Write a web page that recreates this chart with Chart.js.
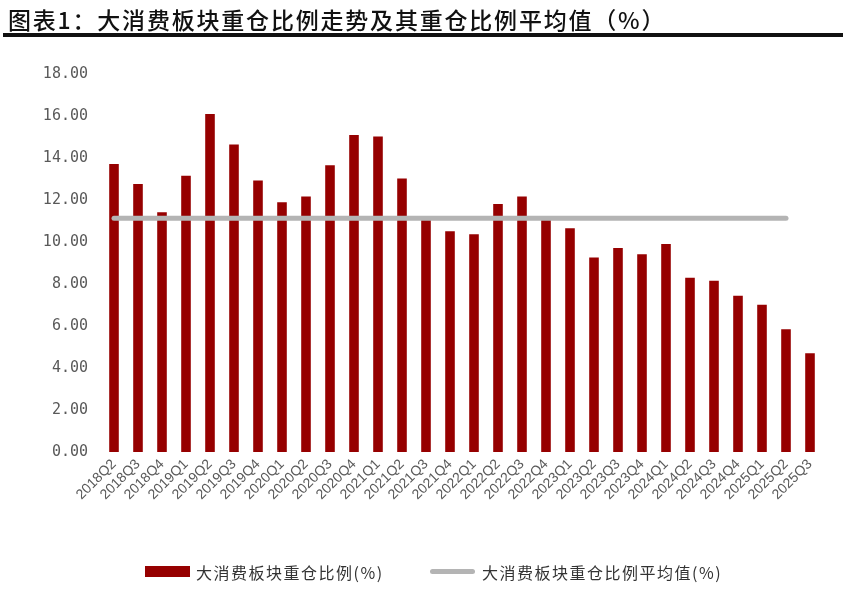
<!DOCTYPE html>
<html>
<head>
<meta charset="utf-8">
<script src="https://cdn.jsdelivr.net/npm/chart.js@4/dist/chart.umd.min.js"></script>
<style>
  html, body { margin: 0; padding: 0; background: #fff; }
  #wrap { position: relative; width: 843px; height: 596px; overflow: hidden; }
  #title {
    position: absolute; left: 8px; top: 2px;
    font: 500 23px "Noto Sans CJK SC", serif; letter-spacing: 1.8px; color: #111;
    white-space: nowrap;
  }
  #rule { position: absolute; left: 3px; right: 0; top: 33px; height: 4px; background: #111; }
  #chart { position: absolute; left: 0; top: 0; }
  .leg { position: absolute; top: 560px; font: 16px "Noto Sans CJK SC", sans-serif; letter-spacing: 1.5px; color: #333; white-space: nowrap; }
  .sw { position: absolute; }
</style>
</head>
<body>
<div id="wrap">
  <canvas id="chart" width="843" height="596"></canvas>
  <div id="title">图表1：大消费板块重仓比例走势及其重仓比例平均值（%）</div>
  <div id="rule"></div>
  <div class="sw" style="left:145px;top:566px;width:45px;height:11px;background:#960000"></div>
  <div class="leg" style="left:196px">大消费板块重仓比例(%)</div>
  <div class="sw" style="left:430px;top:569px;width:45px;height:5px;border-radius:3px;background:#b4b4b4"></div>
  <div class="leg" style="left:482px">大消费板块重仓比例平均值(%)</div>
</div>
<script>
const quarters = [
  "2018Q2","2018Q3","2018Q4",
  "2019Q1","2019Q2","2019Q3","2019Q4",
  "2020Q1","2020Q2","2020Q3","2020Q4",
  "2021Q1","2021Q2","2021Q3","2021Q4",
  "2022Q1","2022Q2","2022Q3","2022Q4",
  "2023Q1","2023Q2","2023Q3","2023Q4",
  "2024Q1","2024Q2","2024Q3","2024Q4",
  "2025Q1","2025Q2","2025Q3"
];

const heavyRatio = [
  13.72, 12.76, 11.42,
  13.15, 16.10, 14.64, 12.93,
  11.89, 12.17, 13.66, 15.10,
  15.02, 13.02, 11.05, 10.51,
  10.37, 11.81, 12.17, 11.05,
  10.65, 9.26, 9.72, 9.42,
  9.91, 8.30, 8.15, 7.44,
  7.01, 5.85, 4.70
];

// average line stops at 2025Q2 in the source
const avgRatio = [
  11.13, 11.13, 11.13,
  11.13, 11.13, 11.13, 11.13,
  11.13, 11.13, 11.13, 11.13,
  11.13, 11.13, 11.13, 11.13,
  11.13, 11.13, 11.13, 11.13,
  11.13, 11.13, 11.13, 11.13,
  11.13, 11.13, 11.13, 11.13,
  11.13, 11.13, null
];

const yTicks = [0, 2, 4, 6, 8, 10, 12, 14, 16, 18];

const GREY = "#595959";

new Chart(document.getElementById("chart").getContext("2d"), {
  type: "bar",
  data: {
    labels: quarters,
    datasets: [
      {
        type: "line",
        label: "大消费板块重仓比例平均值(%)",
        data: avgRatio,
        borderColor: "#b4b4b4",
        borderWidth: 5,
        borderCapStyle: "round",
        pointRadius: 0,
        fill: false,
        order: 0,
      },
      {
        label: "大消费板块重仓比例(%)",
        data: heavyRatio,
        backgroundColor: "#960000",
        barPercentage: 0.4,
        categoryPercentage: 1.0,
        order: 1,
      },
    ],
  },
  options: {
    responsive: false,
    animation: false,
    layout: { padding: { top: 74, right: 21, left: 0, bottom: 0 } },
    plugins: { legend: { display: false }, tooltip: { enabled: false } },
    scales: {
      x: {
        grid: { display: false, drawTicks: false },
        border: { display: false },
        ticks: {
          color: GREY,
          font: { family: "Liberation Sans", size: 14 },
          minRotation: 45, maxRotation: 45,
          autoSkip: false, padding: 4,
        },
        afterFit: s => { s.height = 144; },
      },
      y: {
        min: 0, max: 18,
        grid: { display: false, drawTicks: false },
        border: { display: false },
        afterBuildTicks: s => { s.ticks = yTicks.map(v => ({ value: v })); },
        ticks: {
          color: GREY,
          font: { family: "DejaVu Sans Mono", size: 15 },
          padding: 14,
          callback: v => v.toFixed(2),
        },
        afterFit: s => { s.width = 102; },
      },
    },
  },
});
</script>
</body>
</html>
